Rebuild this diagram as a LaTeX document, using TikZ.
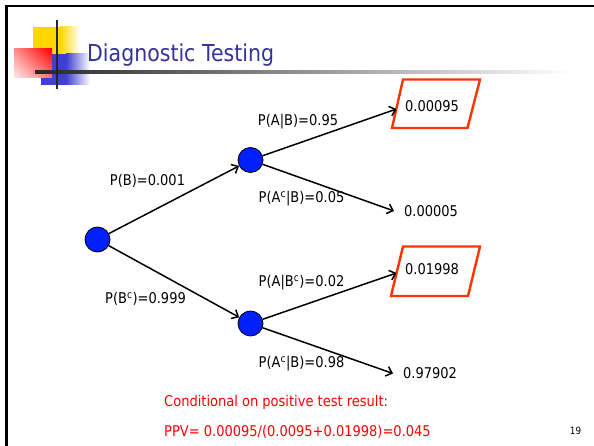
\documentclass[tikz,border=0pt]{standalone}
\usepackage{fontspec}
\setmainfont{DejaVu Sans}[FakeStretch=0.88]
\usetikzlibrary{arrows.meta,shadings}

\definecolor{titleblue}{RGB}{51,51,153}
\definecolor{nodeblue}{RGB}{0,32,255}
\definecolor{boxred}{RGB}{255,51,0}
\definecolor{decoyellow}{RGB}{255,214,0}
\definecolor{decoblue}{RGB}{64,64,208}

\begin{document}
\begin{tikzpicture}[x=1pt,y=-1pt,
  chance/.style={circle,draw=black,line width=0.8pt,fill=nodeblue,
    minimum size=25pt,inner sep=0pt},
  branch/.style={-{Straight Barb[length=5.5pt,width=10pt]},line width=1.5pt},
  txt/.style={font=\fontsize{14.8}{17}\selectfont,inner sep=0pt},
  outcome/.style={txt,outer xsep=10pt},
  hit/.style={draw=boxred,line width=2.4pt,line join=miter},
  note/.style={font=\fontsize{14.8}{17}\selectfont,text=red,inner sep=0pt,anchor=west},
]
\useasboundingbox (0,0) rectangle (594,446);

% title ornament
\fill[decoyellow] (33,27) rectangle (60,54);
\shade[left color=decoyellow,right color=white] (60,27) rectangle (80,54);
\fill[decoblue] (41,54) rectangle (66,85);
\shade[left color=decoblue,right color=white] (66,54) rectangle (90,85);
\shade[upper right=red,lower left=red!8,upper left=red!45,lower right=red!55]
  (14,49) rectangle (52,78);
\shade[left color=black!85,right color=white] (35,71) rectangle (572,73.3);
\fill[black!85] (56,20) rectangle (58.3,89);

% title
\node[anchor=base west,inner sep=0pt,text=titleblue,
  font=\fontsize{23.3}{27}\selectfont] (title) at (87,61.7) {Diagnostic Testing};

% slide frame
\fill[black] (5.3,4.7) rectangle (594,7.2);
\fill[black] (5.3,4.7) rectangle (7.8,446);

% decision tree
\node[chance] (root) at (97.5,239.5) {};
\node[chance] (m1) at (250.5,160) {};
\node[chance] (m2) at (250.5,323.5) {};

% highlighted outcomes (positive test)
\draw[hit] (392,128) -- (403,79.5) -- (480,79.5) -- (467.5,128) -- cycle;
\draw[hit] (391,296) -- (403,246.5) -- (480,246.5) -- (468,296) -- cycle;
\coordinate (t1) at (396.5,109);
\coordinate (t3) at (396.5,273);
\node[txt] (v1) at (432,106) {0.00095};
\node[txt] (v3) at (432,269) {0.01998};
\node[outcome] (e2) at (431,211) {0.00005};
\node[outcome] (e4) at (430,373.5) {0.97902};

\draw[branch] (root) -- (m1);
\draw[branch] (root) -- (m2);
\draw[branch] (m1) -- (t1);
\draw[branch] (m1) -- (e2.west);
\draw[branch] (m2) -- (t3);
\draw[branch] (m2) -- (e4.west);

% branch probabilities
\node[txt] (lb) at (147.5,181) {P(B)=0.001};
\node[txt] (lbc) at (145.5,299) {P(B\textsuperscript{c})=0.999};
\node[txt] (l1) at (298,122) {P(A|B)=0.95};
\node[txt] (l2) at (301.5,199) {P(A\textsuperscript{c}|B)=0.05};
\node[txt] (l3) at (301.5,283) {P(A|B\textsuperscript{c})=0.02};
\node[txt] (l4) at (301.5,364) {P(A\textsuperscript{c}|B)=0.98};

% conclusion
\node[note] (cond) at (164,402) {Conditional on positive test result:};
\node[note] (ppv) at (164,432) {PPV= 0.00095/(0.0095+0.01998)=0.045};

% page number
\node[inner sep=0pt,font=\fontsize{10}{12}\selectfont] (page) at (575.5,430.5) {19};
\end{tikzpicture}
\end{document}
